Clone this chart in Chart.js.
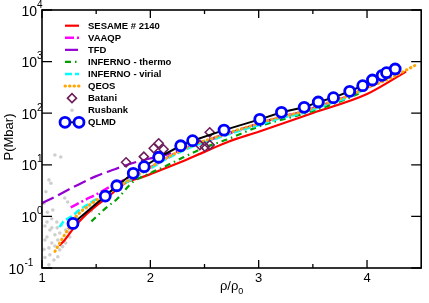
<!DOCTYPE html>
<html><head><meta charset="utf-8">
<script src="https://cdn.jsdelivr.net/npm/chart.js@4/dist/chart.umd.min.js"></script>
<style>html,body{margin:0;padding:0;background:#fff;overflow:hidden}canvas{display:block}</style>
</head><body>
<canvas id="c" width="429" height="303"></canvas>
<script>
// ---- tick values ----
const xTicks = [1, 2, 3, 4];
const xMinorTicks = [1.5, 2.5, 3.5];
const yTickExponents = [-1, 0, 1, 2, 3, 4];

// ---- series data (rho/rho0, P in Mbar) ----
const sesameX = [1.16, 1.21, 1.3, 1.4, 1.5, 1.6, 1.78, 1.9, 2.0, 2.26, 2.5, 2.72, 3.0, 3.5, 4.0, 4.36];
const sesameY = [0.27, 0.35, 0.62, 1.05, 1.6, 2.3, 4.6, 5.5, 6.6, 10.8, 17.8, 28, 43.8, 101, 235, 640];

const vaaqpX = [1.265, 1.4, 1.52, 1.64, 1.75, 1.85, 2.0, 2.2, 2.4, 2.6, 2.8, 3.0, 3.2, 3.4, 3.6, 3.8, 4.0, 4.15];
const vaaqpY = [1.5, 2.1, 2.8, 3.9, 5.0, 6.4, 8.9, 15.5, 24, 33, 46, 62, 83, 105, 147, 205, 310, 440];

const tfdX = [1.0, 1.12, 1.3, 1.49, 1.65, 1.78, 1.9, 2.0, 2.1, 2.2, 2.4, 2.6, 2.8, 3.0, 3.2, 3.4, 3.6, 3.8, 4.0, 4.15];
const tfdY = [1.8, 2.4, 3.8, 5.9, 7.9, 9.9, 11.8, 13.3, 14.8, 17, 24.5, 34, 46, 63, 85, 107, 150, 208, 315, 450];

const infThermoX = [1.456, 1.58, 1.70, 1.83, 2.0, 2.14, 2.3, 2.5, 2.7, 3.0, 3.2, 3.4, 3.6, 3.8, 3.95];
const infThermoY = [0.8, 1.4, 2.25, 4.5, 6.9, 9.4, 13.8, 21.5, 30.5, 55, 74, 95, 130, 185, 255];

const infVirialX = [1.16, 1.2, 1.27, 1.35, 1.45, 1.55, 1.65, 1.75, 1.85, 2.0, 2.2, 2.4, 2.6, 2.8, 3.0, 3.2, 3.4, 3.6, 3.8, 3.95];
const infVirialY = [0.62, 0.8, 0.99, 1.35, 1.85, 2.45, 3.2, 4.2, 5.6, 8.5, 14.8, 23, 32, 44, 59, 80, 100, 140, 195, 270];

const qeosX = [1.12, 1.18, 1.24, 1.30, 1.40, 1.50, 1.60, 1.70, 1.80, 1.90, 2.0, 2.2, 2.4, 2.6, 2.8, 3.0, 3.2, 3.4, 3.6, 3.8, 4.0, 4.2, 4.37, 4.46];
const qeosY = [0.21, 0.35, 0.56, 0.92, 1.45, 2.05, 2.75, 3.7, 5.0, 6.7, 9.0, 15.5, 24.5, 34, 47, 63, 85, 106, 150, 205, 310, 460, 700, 880];

const bataniX = [1.776, 1.940, 2.031, 2.077, 2.122, 2.457, 2.503, 2.548, 2.548];
const bataniY = [11.2, 14.4, 20.9, 26.1, 20.0, 24.2, 22.4, 24.2, 42.7];

const rusbankX = [1.119, 1.173, 1.064, 1.082, 1.210, 1.237, 1.046, 1.027, 1.073, 1.119, 1.164, 1.046, 1.027, 1.091, 1.146, 1.064, 1.119, 1.073, 1.027, 1.110, 1.064, 1.164, 1.146, 1.219, 1.256, 1.319, 1.347, 1.374, 1.411, 1.438, 1.301, 1.392, 1.456, 1.484, 1.529, 1.018, 1.036, 1.100, 1.182, 1.219, 1.09, 1.05, 1.14, 1.28, 1.34, 1.25, 1.137, 1.19, 1.018, 1.091];
const rusbankY = [15.5, 14.2, 5.1, 4.4, 2.28, 1.90, 0.78, 0.65, 0.545, 0.44, 0.477, 0.40, 0.349, 0.305, 0.349, 0.245, 0.267, 0.18, 0.16, 0.143, 0.115, 0.225, 0.165, 0.305, 0.40, 0.97, 1.16, 1.33, 1.45, 1.6, 0.78, 1.05, 1.28, 1.75, 1.9, 1.8, 3.0, 1.33, 0.68, 0.545, 0.9, 1.2, 0.6, 0.62, 0.85, 0.5, 0.78, 0.26, 0.23, 0.6];

const qlmdX = [1.286, 1.584, 1.69, 1.842, 1.943, 2.077, 2.28, 2.39, 2.68, 3.01, 3.21, 3.42, 3.55, 3.69, 3.84, 3.96, 4.05, 4.14, 4.18, 4.26];
const qlmdY = [0.73, 2.48, 3.93, 6.85, 9.2, 14.0, 23.4, 29.3, 47, 76, 104, 130, 165, 200, 266, 341, 440, 542, 610, 719];

function pts(xs, ys) { return xs.map((x, i) => ({ x: x, y: ys[i] })); }

const FONT = '"Liberation Sans", Arial, Helvetica, sans-serif';

const datasets = [
  { label: 'SESAME # 2140', data: pts(sesameX, sesameY), showLine: true, borderColor: '#ff0000', borderWidth: 2.2, pointRadius: 0, cubicInterpolationMode: 'monotone', order: 7 },
  { label: 'VAAQP', data: pts(vaaqpX, vaaqpY), showLine: true, borderColor: '#ff00ff', borderWidth: 2.5, borderDash: [9, 3, 2, 3], pointRadius: 0, cubicInterpolationMode: 'monotone', order: 6 },
  { label: 'TFD', data: pts(tfdX, tfdY), showLine: true, borderColor: '#9400d3', borderWidth: 2.2, borderDash: [13, 5], pointRadius: 0, cubicInterpolationMode: 'monotone', order: 5 },
  { label: 'INFERNO - thermo', data: pts(infThermoX, infThermoY), showLine: true, borderColor: '#00a000', borderWidth: 2.2, borderDash: [6, 4, 1.5, 4], pointRadius: 0, cubicInterpolationMode: 'monotone', order: 4 },
  { label: 'INFERNO - virial', data: pts(infVirialX, infVirialY), showLine: true, borderColor: '#00ffff', borderWidth: 2.5, borderDash: [7, 3], pointRadius: 0, cubicInterpolationMode: 'monotone', order: 3 },
  { label: 'QEOS', data: pts(qeosX, qeosY), showLine: true, borderColor: '#ffa500', borderWidth: 3, borderDash: [0.5, 4], borderCapStyle: 'round', pointRadius: 0, cubicInterpolationMode: 'monotone', order: 2 },
  { label: 'Batani', data: pts(bataniX, bataniY), showLine: false, borderColor: '#6e1e5a', backgroundColor: 'rgba(0,0,0,0)', pointStyle: 'rectRot', pointRadius: 4.5, pointBorderWidth: 1.6, pointBorderColor: '#6e1e5a', pointBackgroundColor: 'rgba(0,0,0,0)', order: 1 },
  { label: 'Rusbank', data: pts(rusbankX, rusbankY), showLine: false, pointStyle: 'circle', pointRadius: 1.8, pointBorderWidth: 0, pointBackgroundColor: '#cfcfcf', pointBorderColor: '#cfcfcf', order: 8 },
  { label: 'QLMD', data: pts(qlmdX, qlmdY), showLine: true, borderColor: '#000000', borderWidth: 2, pointStyle: 'circle', pointRadius: 5, pointBorderWidth: 2.8, pointBorderColor: '#0000ff', pointBackgroundColor: '#ffffff', order: 0 }
];

const decoPlugin = {
  id: 'deco',
  afterDraw(chart) {
    const ctx = chart.ctx, a = chart.chartArea, xs = chart.scales.x, ys = chart.scales.y;
    ctx.save();
    // frame
    ctx.strokeStyle = '#000'; ctx.lineWidth = 1.6; ctx.setLineDash([]);
    ctx.strokeRect(a.left, a.top, a.right - a.left, a.bottom - a.top);
    // ticks
    ctx.lineWidth = 1.3;
    ctx.beginPath();
    xTicks.forEach(v => { const p = xs.getPixelForValue(v); ctx.moveTo(p, a.bottom); ctx.lineTo(p, a.bottom - 8); ctx.moveTo(p, a.top); ctx.lineTo(p, a.top + 8); });
    xMinorTicks.forEach(v => { const p = xs.getPixelForValue(v); ctx.moveTo(p, a.bottom); ctx.lineTo(p, a.bottom - 4); ctx.moveTo(p, a.top); ctx.lineTo(p, a.top + 4); });
    yTickExponents.forEach(e => { const p = ys.getPixelForValue(Math.pow(10, e)); ctx.moveTo(a.left, p); ctx.lineTo(a.left + 10, p); ctx.moveTo(a.right, p); ctx.lineTo(a.right - 10, p); });
    ctx.stroke();
    // x tick labels
    ctx.fillStyle = '#000';
    ctx.font = '13px ' + FONT; ctx.textAlign = 'center'; ctx.textBaseline = 'middle';
    xTicks.forEach(v => ctx.fillText(String(v), xs.getPixelForValue(v), a.bottom + 10.5));
    // y tick labels 10^n
    ctx.textAlign = 'left'; ctx.textBaseline = 'alphabetic';
    yTickExponents.forEach(e => {
      const p = ys.getPixelForValue(Math.pow(10, e));
      const expStr = e < 0 ? '-' + (-e) : String(e);
      ctx.font = '14px ' + FONT;
      const tw = ctx.measureText('10').width;
      const tenRight = e < 0 ? 24 : a.left - 5;
      ctx.fillText('10', tenRight - tw, p + 5.5);
      ctx.font = '10px ' + FONT;
      ctx.fillText(expStr, tenRight + (e < 0 ? 0.5 : 0), p - 2.5);
    });
    // axis titles
    ctx.font = '13px ' + FONT;
    const cx = (a.left + a.right) / 2;
    const main = '\u03c1/\u03c1';
    const mw = ctx.measureText(main).width;
    ctx.font = '9px ' + FONT;
    const sw = ctx.measureText('0').width;
    const startX = cx - (mw + sw) / 2;
    ctx.font = '13px ' + FONT; ctx.textAlign = 'left';
    ctx.fillText(main, startX, a.bottom + 22);
    ctx.font = '9px ' + FONT;
    ctx.fillText('0', startX + mw, a.bottom + 26);
    ctx.save();
    ctx.translate(9, 137);
    ctx.rotate(-Math.PI / 2);
    ctx.font = '13px ' + FONT; ctx.textAlign = 'center'; ctx.textBaseline = 'middle';
    ctx.fillText('P(Mbar)', 0, 0);
    ctx.restore();
    // legend
    const lx0 = 65, lx1 = 79, tx = 88, ly0 = 25.7, ldy = 12.08;
    chart.data.datasets.forEach((ds, i) => {
      const yy = ly0 + i * ldy;
      if (ds.showLine) {
        ctx.save();
        ctx.strokeStyle = ds.borderColor; ctx.lineWidth = ds.borderWidth;
        ctx.setLineDash(ds.borderDash || []); ctx.lineCap = ds.borderCapStyle || 'butt';
        ctx.beginPath(); ctx.moveTo(lx0, yy); ctx.lineTo(lx1, yy); ctx.stroke();
        ctx.restore();
      }
      if (ds.pointRadius > 0) {
        const centers = ds.showLine ? [lx0, lx1] : [(lx0 + lx1) / 2];
        centers.forEach(c => {
          ctx.save();
          ctx.setLineDash([]);
          ctx.fillStyle = ds.pointBackgroundColor; ctx.strokeStyle = ds.pointBorderColor; ctx.lineWidth = ds.pointBorderWidth;
          Chart.helpers.drawPoint(ctx, { pointStyle: ds.pointStyle, radius: ds.pointRadius, borderWidth: ds.pointBorderWidth, rotation: 0 }, c, yy);
          ctx.restore();
        });
      }
      ctx.fillStyle = '#000'; ctx.font = 'bold 9.5px ' + FONT; ctx.textAlign = 'left'; ctx.textBaseline = 'middle';
      ctx.fillText(ds.label, tx, yy + 0.5);
    });
    ctx.restore();
  }
};

new Chart(document.getElementById('c'), {
  type: 'scatter',
  data: { datasets: datasets },
  options: {
    responsive: false, animation: false, devicePixelRatio: 1,
    layout: { padding: { left: 42, right: 2, top: 10, bottom: 35 } },
    plugins: { legend: { display: false }, tooltip: { enabled: false } },
    scales: {
      x: { type: 'linear', min: 1, max: 4.5, display: false },
      y: { type: 'logarithmic', min: 0.1, max: 10000, display: false }
    }
  },
  plugins: [decoPlugin]
});
</script>
</body></html>
